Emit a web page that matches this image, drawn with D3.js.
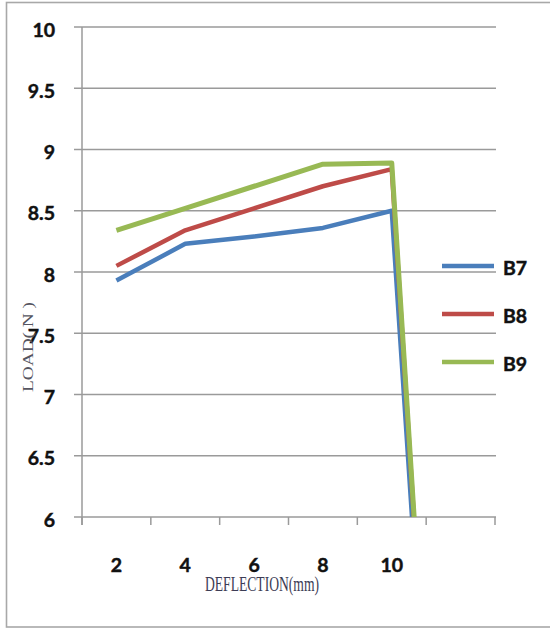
<!DOCTYPE html>
<html>
<head>
<meta charset="utf-8">
<script src="https://cdn.jsdelivr.net/npm/d3@7"></script>
<style>
  html, body { margin: 0; padding: 0; background: #fff; }
  svg { display: block; }
</style>
</head>
<body>
<svg id="chart" width="550" height="628"></svg>
<script>
// Deflection categories (the last slot carries the post-failure drop, unlabeled)
const categories = ["2", "4", "6", "8", "10", ""];
const seriesNames = ["B7", "B8", "B9"];
const b7 = [7.93, 8.23, 8.29, 8.36, 8.50, 0];
const b8 = [8.05, 8.34, 8.52, 8.70, 8.84, 0];
const b9 = [8.34, 8.52, 8.70, 8.88, 8.89, 0];
const yTicks = [6, 6.5, 7, 7.5, 8, 8.5, 9, 9.5, 10];
const colors = ["#4a7ebb", "#be4b48", "#98b954"];

const series = seriesNames.map((name, i) => ({ name, values: [b7, b8, b9][i], color: colors[i] }));

const svg = d3.select("#chart");

// outer frame
svg.append("rect")
  .attr("x", 6.5).attr("y", 2.5).attr("width", 600).attr("height", 624.5)
  .attr("fill", "none").attr("stroke", "#a8a8a8").attr("stroke-width", 1.6);

const plot = { left: 82, right: 495, top: 27, bottom: 517 };

const x = d3.scaleBand().domain(categories).range([plot.left, plot.right]).padding(0);
const y = d3.scaleLinear().domain([6, 10]).range([plot.bottom, plot.top]);

const gridColor = "#9a9a9a";
const labelFont = "Lato, 'Open Sans', sans-serif";

function boldLabel(sel) {
  sel.attr("font-family", labelFont).attr("font-weight", "bold").attr("font-size", 19.5)
    .attr("fill", "#111").attr("stroke", "#111").attr("stroke-width", 0.45);
}

// horizontal gridlines with short outer ticks
svg.append("g").selectAll("line").data(yTicks).join("line")
  .attr("x1", plot.left - 8).attr("x2", plot.right + 1)
  .attr("y1", d => y(d)).attr("y2", d => y(d))
  .attr("stroke", gridColor).attr("stroke-width", 1.5);

// y tick labels
svg.append("g").selectAll("text").data(yTicks).join("text")
  .attr("x", 55).attr("y", d => y(d) + 2)
  .attr("text-anchor", "end").attr("dominant-baseline", "central")
  .call(boldLabel)
  .text(d => d);

// y axis line
svg.append("line")
  .attr("x1", plot.left).attr("x2", plot.left)
  .attr("y1", plot.top).attr("y2", plot.bottom + 8)
  .attr("stroke", gridColor).attr("stroke-width", 1.5);

// x axis ticks at category boundaries
const boundaries = categories.map(c => x(c)).concat([plot.right]);
svg.append("g").selectAll("line").data(boundaries).join("line")
  .attr("x1", d => d).attr("x2", d => d)
  .attr("y1", plot.bottom).attr("y2", plot.bottom + 8)
  .attr("stroke", gridColor).attr("stroke-width", 1.5);

// x tick labels
svg.append("g").selectAll("text").data(categories).join("text")
  .attr("x", d => x(d) + x.bandwidth() / 2).attr("y", 572)
  .attr("text-anchor", "middle")
  .call(boldLabel)
  .text(d => d);

// clip lines to the plot area
svg.append("clipPath").attr("id", "plotClip")
  .append("rect")
  .attr("x", plot.left).attr("y", plot.top - 5)
  .attr("width", plot.right - plot.left).attr("height", plot.bottom - plot.top + 5);

const line = d3.line()
  .x((d, i) => x(categories[i]) + x.bandwidth() / 2)
  .y(d => y(d));

svg.append("g").attr("clip-path", "url(#plotClip)")
  .selectAll("path").data(series).join("path")
  .attr("d", d => line(d.values))
  .attr("fill", "none")
  .attr("stroke", d => d.color)
  .attr("stroke-width", (d, i) => i === 2 ? 5 : 4.5)
  .attr("stroke-linejoin", "round");

// legend
const legend = svg.append("g").selectAll("g").data(series).join("g")
  .attr("transform", (d, i) => `translate(442, ${266 + i * 48})`);
legend.append("line")
  .attr("x1", 0).attr("x2", 52)
  .attr("stroke", d => d.color).attr("stroke-width", 4.5);
legend.append("text")
  .attr("x", 61).attr("y", 1)
  .attr("dominant-baseline", "central")
  .call(boldLabel)
  .text(d => d.name);

// axis titles
svg.append("text")
  .attr("x", 205).attr("y", 591)
  .attr("font-family", "'Liberation Serif', 'DejaVu Serif', serif")
  .attr("font-size", 22).attr("fill", "#3c3c55")
  .attr("textLength", 114).attr("lengthAdjust", "spacingAndGlyphs")
  .text("DEFLECTION(mm)");

svg.append("text")
  .attr("transform", "translate(33, 392) rotate(-90)")
  .attr("font-family", "'Liberation Serif', 'DejaVu Serif', serif")
  .attr("font-size", 15).attr("fill", "#555560")
  .attr("textLength", 90).attr("lengthAdjust", "spacingAndGlyphs")
  .text("LOAD( N )");
</script>
</body>
</html>
